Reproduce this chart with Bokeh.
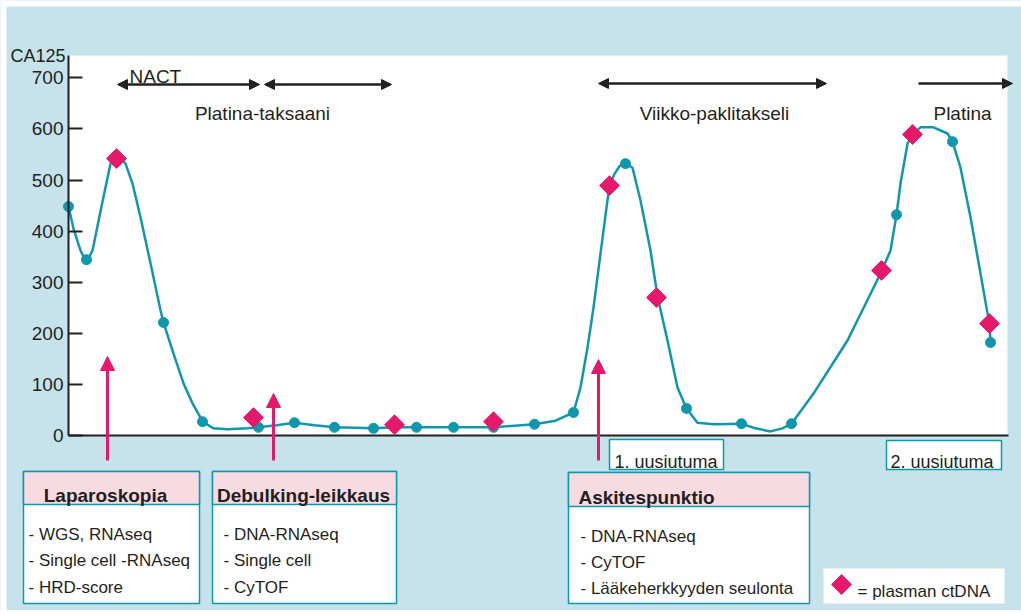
from bokeh.plotting import figure
from bokeh.models import (Range1d, FixedTicker, Label, Arrow, NormalHead, BoxAnnotation)
from bokeh.embed import file_html
from bokeh.resources import INLINE
import math

# ---------------- data ----------------
# time axis (arbitrary units, no tick labels) and CA125 values
curve_t = [0, 5, 12, 15, 18, 21, 24, 33, 42, 45, 50, 57, 64, 72, 82, 92, 95, 105, 115, 124, 132, 134,
           145, 159, 179, 190, 208, 226, 246, 266, 305, 326, 348, 385, 425, 466, 487, 505,
           512, 519, 525, 532, 538, 541, 546, 551, 557, 564, 572, 582, 589, 599, 609, 618,
           629, 645, 673, 687, 702, 714, 723, 745, 779, 813, 822, 828, 832, 839, 844, 852, 865, 879,
           884, 892, 902, 912, 919, 921, 922]
curve_ca125 = [448, 405, 362, 350, 344, 350, 362, 448, 532, 548, 546, 532, 493, 427, 337, 245, 221, 160, 102, 63, 35, 27,
               14, 12, 14, 16, 20, 25, 20, 16, 14, 16, 16, 16, 16, 22, 29, 45,
               94, 172, 250, 356, 446, 489, 512, 527, 532, 524, 460, 362, 272, 186, 94, 53,
               25, 22, 23, 14, 8, 14, 23, 82, 186, 321, 362, 432, 493, 571, 589, 603, 603, 591,
               575, 524, 427, 317, 239, 219, 182]

sample_t = [0, 18, 95, 134, 190, 226, 266, 305, 348, 385, 425, 466, 505, 557, 618, 673, 723, 828, 884, 922]
sample_ca125 = [448, 344, 221, 27, 16, 25, 16, 14, 16, 16, 16, 22, 45, 532, 53, 23, 23, 432, 575, 182]

ctdna_t = [48, 185, 326, 425, 541, 588, 813, 844, 921]
ctdna_ca125 = [542, 35, 21, 27, 489, 270, 323, 589, 219]

y_ticks = [0, 100, 200, 300, 400, 500, 600, 700]

# ---------------- styles ----------------
FONT = "Liberation Sans"
BG = "#c6e3eb"
TEAL = "#0f97ad"
PINK = "#e6186c"
HEAD_PINK = "#f8dbe1"
DARK = "#231f20"

W, H = 1021, 610

# pixel helpers for annotation placement (axis at px 68, y=0 at px 435)
def X(px):
    return px - 68

def Y(py):
    return (435 - py) / 0.511

p = figure(width=W, height=H, output_backend="svg", toolbar_location=None,
           x_range=Range1d(X(0), X(W)), y_range=Range1d(Y(H), Y(0)),
           x_axis_location=None, min_border=0)
p.outline_line_color = None
p.background_fill_color = BG
p.border_fill_color = BG
p.grid.visible = False

# white margin at top/left as in the original page, and white plotting area
p.add_layout(BoxAnnotation(left=X(0), right=X(W), bottom=Y(6), top=Y(0),
                           fill_color="white", fill_alpha=1, line_color=None, level="underlay"))
p.add_layout(BoxAnnotation(left=X(0), right=X(6), bottom=Y(H), top=Y(0),
                           fill_color="white", fill_alpha=1, line_color=None, level="underlay"))
p.add_layout(BoxAnnotation(left=X(68), right=X(1007), bottom=0, top=Y(55),
                           fill_color="white", fill_alpha=1, line_color=None, level="underlay"))

# y axis, fixed at t = 0
ya = p.yaxis[0]
ya.fixed_location = 0
ya.ticker = FixedTicker(ticks=y_ticks)
ya.bounds = (0, Y(55))
ya.major_tick_in = 14
ya.major_tick_out = 0
ya.minor_tick_line_color = None
ya.axis_line_width = 2
ya.axis_line_color = DARK
ya.major_tick_line_width = 2
ya.major_tick_line_color = DARK
ya.major_label_text_font = FONT
ya.major_label_text_font_size = "19px"
ya.major_label_text_color = DARK
ya.major_label_standoff = 5

# x axis baseline
p.segment(x0=[X(68)], y0=[0], x1=[X(1008)], y1=[0], line_color=DARK, line_width=2)

# curve, samples, ctDNA
p.line(curve_t, curve_ca125, line_color=TEAL, line_width=2.5, line_join="round")
p.scatter(sample_t, sample_ca125, size=10, marker="circle", fill_color=TEAL, line_color=TEAL)
p.scatter(ctdna_t, ctdna_ca125, size=14, marker="square", angle=math.pi / 4,
          fill_color=PINK, line_color=PINK)

def lab(text, px, py, size="18px", align="left", bold=False):
    p.add_layout(Label(x=X(px), y=Y(py), text=text, text_font=FONT, text_font_size=size,
                       text_color=DARK, text_align=align, text_baseline="alphabetic",
                       text_font_style="bold" if bold else "normal"))

# CA125 title
lab("CA125", 10, 55, size="18px")

# therapy arrows
def harrow(x0, x1, py, start=True):
    p.add_layout(Arrow(x_start=X(x0), y_start=Y(py), x_end=X(x1), y_end=Y(py),
                       line_color=DARK, line_width=2.5,
                       start=NormalHead(size=10, fill_color=DARK, line_color=DARK) if start else None,
                       end=NormalHead(size=10, fill_color=DARK, line_color=DARK)))

harrow(117, 259, 84)
harrow(264, 391, 84)
harrow(598, 826, 83)
harrow(918, 1012, 83, start=False)
lab("NACT", 129, 76, size="19px")
lab("Platina-taksaani", 262, 113, size="19px", align="center")
lab("Viikko-paklitakseli", 714, 113, size="19px", align="center")
lab("Platina", 962, 113, size="19px", align="center")

# pink sampling arrows
for px, tip in [(107, 356), (273, 393), (598, 359)]:
    p.add_layout(Arrow(x_start=X(px), y_start=Y(460), x_end=X(px), y_end=Y(tip),
                       line_color=PINK, line_width=3,
                       end=NormalHead(size=14, fill_color=PINK, line_color=PINK)))

# boxes
def box(x0, x1, y0, y1, fill, line=TEAL, lw=1.5):
    p.quad(left=[X(x0)], right=[X(x1)], top=[Y(y0)], bottom=[Y(y1)],
           fill_color=fill, line_color=line, line_width=lw)

for (x0, x1, top, hb, title, tcx, items, ix, bases) in [
    (23, 199, 471, 504, "Laparoskopia", 105,
     ["- WGS, RNAseq", "- Single cell -RNAseq", "- HRD-score"], 28, [534, 560, 587]),
    (212, 396, 471, 504, "Debulking-leikkaus", 303,
     ["- DNA-RNAseq", "- Single cell", "- CyTOF"], 223, [534, 560, 587]),
    (568, 809, 472, 506, "Askitespunktio", 646,
     ["- DNA-RNAseq", "- CyTOF", "- Lääkeherkkyyden seulonta"], 580, [536, 562, 588]),
]:
    box(x0, x1, top, 603, "white")
    box(x0, x1, top, hb, HEAD_PINK)
    lab(title, tcx, hb - 9, size="19px", align="center", bold=True)
    for t, b in zip(items, bases):
        lab(t, ix, b, size="17px")

box(609, 723, 439, 469, "white")
lab("1. uusiutuma", 614, 461, size="18px")
box(886, 1001, 440, 469, "white")
lab("2. uusiutuma", 890, 461, size="18px")

# legend
box(823, 1004, 568, 603, "white", line=None)
p.scatter([X(841)], [Y(584)], size=14, marker="square", angle=math.pi / 4,
          fill_color=PINK, line_color=PINK)
lab("= plasman ctDNA", 857, 591, size="17px")

open("out.html", "w").write(file_html(p, INLINE))
